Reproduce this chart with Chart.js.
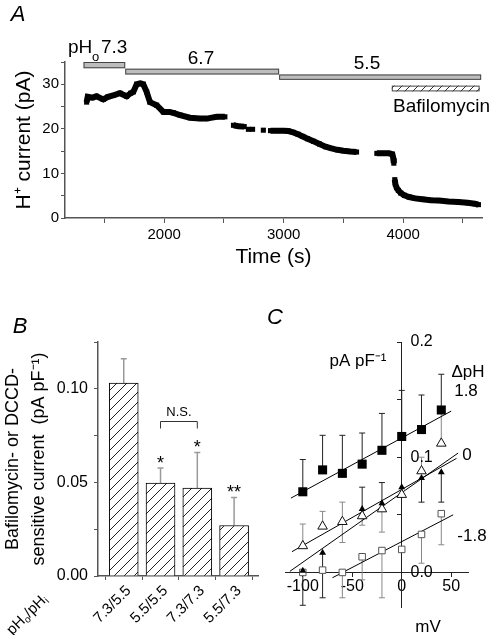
<!DOCTYPE html>
<html>
<head>
<meta charset="utf-8">
<script src="https://cdn.jsdelivr.net/npm/chart.js@4"></script>
<style>
html, body { margin: 0; padding: 0; background: #fff; }
#wrap { position: relative; width: 496px; height: 635px; overflow: hidden; }
canvas { position: absolute; }
</style>
</head>
<body>
<div id="wrap">
  <canvas id="chartA" width="496" height="290" style="left:0;top:0"></canvas>
  <canvas id="chartB" width="260" height="335" style="left:0;top:300px"></canvas>
  <canvas id="chartC" width="236" height="335" style="left:260px;top:300px"></canvas>
</div>
<script>
// ---- Panel A: H+ current vs time (null = break in the recording)
const timeA = [1351, 1360, 1400, 1434, 1490, 1530, 1574, 1630, 1686, 1720, 1742, 1770, 1800, 1825, 1853, 1881, 1937, 1993, 2040, 2077, 2133, 2216, 2300, 2356, 2440, 2508,
  null, 2580, 2620, 2670, null, 2705, null, 2740, null, 2830, null,
  2890, 2950, 3000, 3040, 3080, 3120, 3160, 3200, 3250, 3300, 3350, 3400, 3450, 3500, 3560, 3610,
  null, 3780, 3830, 3880, 3910, 3918, 3922, null,
  3930, 3935, 3945, 3960, 3980, 4010, 4050, 4100, 4160, 4230, 4300, 4380, 4460, 4540, 4600, 4630];
const currentA = [26.0, 27.2, 27.0, 27.3, 26.6, 27.2, 27.5, 28.0, 27.3, 28.0, 28.3, 30.0, 30.2, 30.0, 28.3, 26.0, 25.3, 23.8, 23.8, 23.6, 23.1, 22.5, 22.3, 22.3, 22.7, 22.7,
  null, 20.8, 20.6, 20.5, null, 19.9, null, 19.9, null, 19.7, null,
  19.6, 19.6, 19.6, 19.5, 19.2, 18.8, 18.3, 17.8, 17.2, 16.6, 16.0, 15.6, 15.3, 15.1, 14.9, 14.8,
  null, 14.5, 14.5, 14.5, 14.3, 13.4, 12.3, null,
  8.6, 7.6, 6.8, 6.2, 5.6, 5.1, 4.7, 4.4, 4.2, 4.0, 3.9, 3.7, 3.6, 3.4, 3.2, 3.0];
const solutionPH = ['7.3', '6.7', '5.5'];
const solutionTimes = [1325, 1674, 2962, 4653];
const bafilomycinTimes = [3905, 4640];
const timeTicks = [1500, 2000, 2500, 3000, 3500, 4000, 4500];
const currentTicks = [0, 5, 10, 15, 20, 25, 30, 35];

// ---- Panel B: bafilomycin- / DCCD-sensitive current
const pHLabels = ['7.3/5.5', '5.5/5.5', '7.3/7.3', '5.5/7.3'];
const sensitiveCurrent = [0.103, 0.0497, 0.047, 0.027];
const sensitiveSem = [0.013, 0.008, 0.019, 0.015];
const significance = ['', '*', '*', '**'];
const densityTicks = [0, 0.025, 0.05, 0.075, 0.1, 0.125];

// ---- Panel C: current density vs voltage
const voltage = [-100, -80, -60, -40, -20, 0, 20, 40];
const dpH18 = [0.070, 0.089, 0.086, 0.094, 0.106, 0.118, 0.124, 0.141];
const dpH18Up = [0.028, 0.030, 0.033, 0.027, 0.032, 0.040, 0.030, 0.031];
const dpH0open = [0.023, 0.040, 0.044, 0.049, 0.055, 0.0675, 0.088, 0.112];
const dpH0openUp = [0.019, 0.013, 0.017, 0, 0, 0, 0.012, 0.029];
const dpH0openDown = [0, 0, 0.018, 0.008, 0.020, 0, 0, 0];
const dpH0filled = [0.0015, 0.017, null, 0.055, 0.060, 0.074, 0.082, 0.087];
const dpH0filledUp = [0, 0, 0, 0.019, 0.018, 0, 0, 0];
const dpH0filledDown = [0.030, 0.039, 0, 0, 0, 0, 0.021, 0.026];
const dpHm18 = [0.0, 0.002, 0.0, 0.0136, 0.019, 0.020, 0.033, 0.051];
const dpHm18Down = [0, 0, 0.022, 0.020, 0.041, 0, 0.025, 0.027];
const fitX18 = [-112, 50], fitY18 = [0.0645, 0.140];
const fitX0open = [-111, 55.4], fitY0open = [0.018, 0.099];
const fitX0filled = [-113, 57], fitY0filled = [0.001, 0.1036];
const fitXm18 = [-70, 52], fitYm18 = [-0.0046, 0.050];
const voltTicks = [-100, -75, -50, -25, 0, 25, 50];
const cdTicks = [0, 0.05, 0.1, 0.15, 0.2];
const cdLabels = [0, 0.1, 0.2];

Chart.defaults.font.family = "'Liberation Sans', Arial, Helvetica, sans-serif";
Chart.defaults.color = '#000';
Chart.defaults.animation = false;
Chart.defaults.responsive = false;
Chart.defaults.devicePixelRatio = 1;
Chart.defaults.plugins.legend.display = false;
Chart.defaults.plugins.tooltip.enabled = false;

const fixedTicks = vals => scale => { scale.ticks = vals.map(v => ({ value: v })); };
const pts = (xs, ys) => xs.map((x, i) => ({ x: x, y: ys[i] }));

function hatch(step, color, bg) {
  const c = document.createElement('canvas');
  c.width = step; c.height = step;
  const g = c.getContext('2d');
  g.fillStyle = bg; g.fillRect(0, 0, step, step);
  g.strokeStyle = color; g.lineWidth = 1;
  g.beginPath();
  g.moveTo(0, step); g.lineTo(step, 0);
  g.moveTo(-2, 2); g.lineTo(2, -2);
  g.moveTo(step - 2, step + 2); g.lineTo(step + 2, step - 2);
  g.stroke();
  return g.createPattern(c, 'repeat');
}

function label(ctx, str, x, y, size, align, opts) {
  ctx.save();
  ctx.font = (opts && opts.italic ? 'italic ' : '') + size + "px 'Liberation Sans', Arial, sans-serif";
  ctx.fillStyle = '#000';
  ctx.textAlign = align || 'center';
  ctx.textBaseline = (opts && opts.baseline) || 'middle';
  ctx.fillText(str, x, y);
  ctx.restore();
}

// error bars drawn from each dataset's errUp / errDown arrays
const errorBarPlugin = {
  id: 'errorBars',
  beforeDatasetsDraw(chart) {
    const ctx = chart.ctx, xs = chart.scales.x, ys = chart.scales.y;
    chart.data.datasets.forEach(ds => {
      if (!ds.errUp && !ds.errDown) return;
      ctx.save();
      ctx.strokeStyle = ds.errColor || '#000';
      ctx.lineWidth = ds.errWidth || 1;
      ds.data.forEach((p, i) => {
        if (p.y == null) return;
        const x = xs.getPixelForValue(p.x);
        [[ds.errUp, 1], [ds.errDown, -1]].forEach(([arr, sgn]) => {
          if (!arr || !arr[i]) return;
          const y0 = ys.getPixelForValue(p.y), y1 = ys.getPixelForValue(p.y + sgn * arr[i]);
          ctx.beginPath();
          ctx.moveTo(x, y0); ctx.lineTo(x, y1);
          ctx.moveTo(x - 3, y1); ctx.lineTo(x + 3, y1);
          ctx.stroke();
        });
      });
      ctx.restore();
    });
  }
};

// ================= Panel A =================
const annotA = {
  id: 'annotA',
  afterDraw(chart) {
    const ctx = chart.ctx, xs = chart.scales.x, ys = chart.scales.y;
    const levels = [[35.0, 33.6], [33.5, 32.2], [32.2, 31.0]];
    ctx.save();
    ctx.lineWidth = 1;
    ctx.strokeStyle = '#444';
    solutionPH.forEach((ph, i) => {
      const x0 = xs.getPixelForValue(solutionTimes[i]), x1 = xs.getPixelForValue(solutionTimes[i + 1]);
      const y0 = ys.getPixelForValue(levels[i][0]), y1 = ys.getPixelForValue(levels[i][1]);
      ctx.fillStyle = '#bdbdbd';
      ctx.fillRect(x0, y0, x1 - x0, y1 - y0);
      ctx.strokeRect(x0 + 0.5, y0 + 0.5, x1 - x0 - 1, y1 - y0 - 1);
    });
    const bx0 = xs.getPixelForValue(bafilomycinTimes[0]), bx1 = xs.getPixelForValue(bafilomycinTimes[1]);
    const by0 = ys.getPixelForValue(29.7), by1 = ys.getPixelForValue(28.4);
    ctx.fillStyle = hatch(8, '#333', '#fff');
    ctx.fillRect(bx0, by0, bx1 - bx0, by1 - by0);
    ctx.strokeRect(bx0 + 0.5, by0 + 0.5, bx1 - bx0 - 1, by1 - by0 - 1);
    ctx.restore();
    // pH labels
    label(ctx, 'pH', 68, 53, 19, 'left', { baseline: 'alphabetic' });
    label(ctx, 'o', 92, 61, 13, 'left', { baseline: 'alphabetic' });
    label(ctx, solutionPH[0], 101, 53, 19, 'left', { baseline: 'alphabetic' });
    label(ctx, solutionPH[1], 201, 59, 19);
    label(ctx, solutionPH[2], 367, 64, 19);
    label(ctx, 'Bafilomycin', 393, 107, 19, 'left');
    label(ctx, 'A', 18, 15, 22, 'center', { italic: true });
  }
};

new Chart(document.getElementById('chartA'), {
  type: 'scatter',
  data: {
    datasets: [{
      data: pts(timeA, currentA),
      showLine: true,
      spanGaps: false,
      borderColor: '#000',
      backgroundColor: '#000',
      borderWidth: 6,
      pointStyle: 'rect',
      pointRadius: 3.6,
      pointBorderWidth: 0
    }]
  },
  options: {
    layout: { padding: { left: 0, right: 14, top: 62, bottom: 0 } },
    scales: {
      x: {
        type: 'linear', min: 1170, max: 4660,
        afterBuildTicks: fixedTicks(timeTicks),
        afterFit: s => { s.height = 72; },
        ticks: { callback: v => (v % 1000 === 0 ? String(v) : ''), font: { size: 15 }, padding: 3, maxRotation: 0 },
        grid: { drawOnChartArea: false, tickLength: 5, tickColor: '#555' },
        border: { color: '#555', width: 1.5 },
        title: { display: true, text: 'Time (s)', font: { size: 21 }, padding: { top: 0, bottom: 20 } }
      },
      y: {
        min: 0, max: 35,
        afterBuildTicks: fixedTicks(currentTicks),
        afterFit: s => { s.width = 65; },
        ticks: { callback: v => (v % 10 === 0 ? String(v) : ''), font: { size: 15 }, padding: 2 },
        grid: { drawOnChartArea: false, tickLength: 4, tickColor: '#555' },
        border: { color: '#555', width: 1.5 },
        title: { display: true, text: 'H⁺ current (pA)', font: { size: 21 }, padding: { top: 12, bottom: 0 } }
      }
    }
  },
  plugins: [annotA]
});

// ================= Panel B =================
const annotB = {
  id: 'annotB',
  afterDatasetsDraw(chart) {
    const ctx = chart.ctx, xs = chart.scales.x, ys = chart.scales.y;
    // significance marks
    significance.forEach((s, i) => {
      if (!s) return;
      const yTop = ys.getPixelForValue(sensitiveCurrent[i] + sensitiveSem[i]);
      label(ctx, s, xs.getPixelForValue(i + 1), yTop + 1, 18, 'center', { baseline: 'alphabetic' });
    });
    // N.S. bracket between 5.5/5.5 and 7.3/7.3
    const x0 = xs.getPixelForValue(2), x1 = xs.getPixelForValue(3), yb = Math.round(ys.getPixelForValue(0.083)) + 0.5;
    ctx.save();
    ctx.strokeStyle = '#333'; ctx.lineWidth = 1;
    ctx.beginPath();
    ctx.moveTo(x0, yb + 7); ctx.lineTo(x0, yb); ctx.lineTo(x1, yb); ctx.lineTo(x1, yb + 7);
    ctx.stroke();
    ctx.restore();
    label(ctx, 'N.S.', (x0 + x1) / 2, yb - 9, 13);
    // pHo/pHi axis caption, rotated like the tick labels
    ctx.save();
    ctx.translate(45, 297);
    ctx.rotate(-Math.PI / 4);
    ctx.fillStyle = '#000';
    ctx.textBaseline = 'middle';
    const big = "15px 'Liberation Sans', Arial, sans-serif", small = "10px 'Liberation Sans', Arial, sans-serif";
    const parts = [['pH', big, 0], ['o', small, 4], ['/pH', big, 0], ['i', small, 4]];
    let w = 0;
    parts.forEach(p => { ctx.font = p[1]; w += ctx.measureText(p[0]).width; });
    let cx = -w;
    parts.forEach(p => { ctx.font = p[1]; ctx.fillText(p[0], cx, p[2]); cx += ctx.measureText(p[0]).width; });
    ctx.restore();
    label(ctx, 'B', 20, 27, 22, 'center', { italic: true });
  }
};

new Chart(document.getElementById('chartB'), {
  type: 'bar',
  data: {
    datasets: [{
      data: pts(pHLabels.map((l, i) => i + 1), sensitiveCurrent),
      backgroundColor: hatch(10, '#222', '#fff'),
      borderColor: '#000',
      borderWidth: 1,
      barThickness: 29,
      errUp: sensitiveSem,
      errColor: '#9a9a9a',
      errWidth: 1.5
    }]
  },
  options: {
    layout: { padding: { left: 0, right: 2, top: 42, bottom: 0 } },
    scales: {
      x: {
        type: 'linear', min: 0.3, max: 4.65, offset: false,
        afterBuildTicks: fixedTicks([1, 2, 3, 4]),
        afterFit: s => { s.height = 59; s.paddingLeft = 0; s.paddingRight = 0; },
        ticks: { callback: v => pHLabels[Math.round(v) - 1], font: { size: 15 }, minRotation: 45, maxRotation: 45, autoSkip: false, padding: 2, labelOffset: 5 },
        grid: { drawOnChartArea: false, tickLength: 4, tickColor: '#555' },
        border: { color: '#555', width: 1.5 }
      },
      y: {
        min: 0, max: 0.125,
        afterBuildTicks: fixedTicks(densityTicks),
        afterFit: s => { s.width = 98; },
        ticks: { callback: v => (Math.abs(v * 20 - Math.round(v * 20)) < 1e-6 ? v.toFixed(2) : ''), font: { size: 16 }, padding: 6 },
        grid: { drawOnChartArea: false, tickLength: 4, tickColor: '#555' },
        border: { color: '#555', width: 1.5 },
        title: { display: true, text: ['Bafilomycin- or DCCD-', 'sensitive current  (pA pF⁻¹)'], font: { size: 18, lineHeight: 1.45 }, padding: { top: 0, bottom: 0 } }
      }
    }
  },
  plugins: [errorBarPlugin, annotB]
});

// ================= Panel C =================
const annotC = {
  id: 'annotC',
  afterDraw(chart) {
    const ctx = chart.ctx, xs = chart.scales.x, ys = chart.scales.y;
    // y tick labels sit to the right of the y axis
    cdLabels.forEach(v => label(ctx, v.toFixed(1), xs.getPixelForValue(0) + 31, ys.getPixelForValue(v), 16, 'right'));
    label(ctx, 'pA pF⁻¹', 98, 61, 17);
    label(ctx, 'ΔpH', 208, 72, 17);
    label(ctx, '1.8', 206, 91, 17);
    label(ctx, '0', 207, 155, 17);
    label(ctx, '-1.8', 212, 236, 17);
    label(ctx, 'mV', 168, 327, 17);
    label(ctx, 'C', 15, 18, 22, 'center', { italic: true });
  }
};

const fitLine = (xs, ys) => ({ data: pts(xs, ys), showLine: true, pointRadius: 0, borderColor: '#000', borderWidth: 1, order: 5 });

new Chart(document.getElementById('chartC'), {
  type: 'scatter',
  data: {
    datasets: [
      { data: pts(voltage, dpH18), pointStyle: 'rect', pointRadius: 6.4, backgroundColor: '#000', borderColor: '#000', pointBorderWidth: 0,
        errUp: dpH18Up, errColor: '#222', order: 1 },
      { data: pts(voltage, dpH0open), pointStyle: 'triangle', pointRadius: 5.5, backgroundColor: '#fff', borderColor: '#111', pointBorderWidth: 1,
        errUp: dpH0openUp, errDown: dpH0openDown, errColor: '#888', order: 2 },
      { data: pts(voltage, dpH0filled), pointStyle: 'triangle', pointRadius: 4, backgroundColor: '#000', borderColor: '#000', pointBorderWidth: 0,
        errUp: dpH0filledUp, errDown: dpH0filledDown, errColor: '#222', order: 1 },
      { data: pts(voltage, dpHm18), pointStyle: 'rect', pointRadius: 4.6, backgroundColor: '#fff', borderColor: '#555', pointBorderWidth: 1,
        errDown: dpHm18Down, errColor: '#888', order: 2 },
      fitLine(fitX18, fitY18),
      fitLine(fitX0open, fitY0open),
      fitLine(fitX0filled, fitY0filled),
      fitLine(fitXm18, fitYm18)
    ]
  },
  options: {
    layout: { padding: { left: 25, right: 28, top: 42, bottom: 28 } },
    scales: {
      x: {
        type: 'linear', min: -118, max: 67, position: { y: 0 },
        afterBuildTicks: fixedTicks(voltTicks),
        ticks: { callback: v => (v % 50 === 0 ? String(v) : ''), font: { size: 16 }, padding: 1, maxRotation: 0 },
        grid: { drawOnChartArea: false, tickLength: 4, tickColor: '#222' },
        border: { color: '#222', width: 1 }
      },
      y: {
        min: -0.03, max: 0.2, position: { x: 0 },
        afterBuildTicks: fixedTicks(cdTicks),
        ticks: { callback: () => '' },
        grid: { drawOnChartArea: false, tickLength: 4, tickColor: '#222' },
        border: { color: '#222', width: 1 }
      }
    }
  },
  plugins: [errorBarPlugin, annotC]
});
</script>
</body>
</html>
